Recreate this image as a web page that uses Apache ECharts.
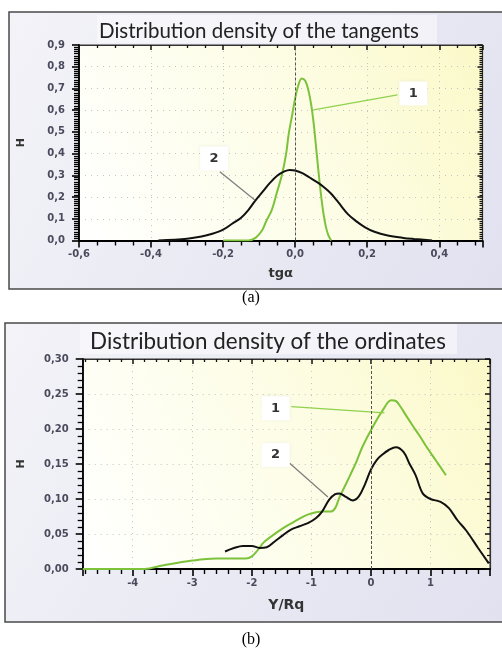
<!DOCTYPE html>
<html><head><meta charset="utf-8">
<script src="https://cdn.jsdelivr.net/npm/echarts@6/dist/echarts.min.js"></script>
<style>html,body{margin:0;padding:0;background:#fff}#c{width:502px;height:650px}</style>
</head><body><div id="c"></div>
<script>
// ---- texts ----
const topTitle = 'Distribution density of the tangents';
const botTitle = 'Distribution density of the ordinates';
const topXName = 'tgα';
const botXName = 'Y/Rq';
const yName = 'H';
const captions = ['(a)', '(b)'];
const curveLabels = ['1', '2'];

// ---- chart (a): tangents ----
const tanCurve1X = [-0.2,-0.13,-0.11,-0.092,-0.08,-0.065,-0.05,-0.037,-0.025,-0.018,-0.008,0,0.008,0.018,0.028,0.037,0.045,0.052,0.058,0.064,0.071,0.078,0.085,0.092,0.1];
const tanCurve1Y = [0,0,0.012,0.046,0.09,0.14,0.225,0.30,0.40,0.49,0.58,0.655,0.71,0.746,0.735,0.69,0.62,0.53,0.43,0.33,0.22,0.13,0.065,0.025,0];
const tanCurve2X = [-0.38,-0.3,-0.26,-0.23,-0.2,-0.175,-0.15,-0.13,-0.11,-0.09,-0.07,-0.05,-0.03,-0.015,0,0.02,0.04,0.064,0.08,0.1,0.12,0.147,0.17,0.193,0.22,0.257,0.3,0.33,0.38];
const tanCurve2Y = [0,0.008,0.018,0.031,0.05,0.077,0.105,0.14,0.185,0.225,0.265,0.298,0.318,0.325,0.322,0.31,0.29,0.265,0.245,0.215,0.175,0.12,0.088,0.062,0.04,0.023,0.012,0.007,0];

// ---- chart (b): ordinates ----
const ordCurve1X = [-4.84,-3.8,-3.5,-3.0,-2.6,-2.1,-2.0,-1.9,-1.8,-1.65,-1.48,-1.3,-1.2,-1.05,-0.92,-0.8,-0.68,-0.6,-0.53,-0.45,-0.36,-0.25,-0.14,0.03,0.2,0.34,0.42,0.48,0.6,0.7,0.82,0.93,1.1,1.26];
const ordCurve1Y = [0,0,0.005,0.012,0.015,0.015,0.018,0.027,0.038,0.048,0.058,0.067,0.072,0.078,0.081,0.082,0.082,0.087,0.102,0.116,0.132,0.152,0.175,0.203,0.227,0.241,0.24,0.234,0.218,0.205,0.19,0.175,0.154,0.134];
const ordCurve2X = [-2.45,-2.3,-2.15,-2.0,-1.87,-1.75,-1.62,-1.48,-1.35,-1.2,-1.05,-0.92,-0.82,-0.7,-0.6,-0.53,-0.42,-0.3,-0.2,-0.1,0.0,0.1,0.2,0.3,0.42,0.55,0.65,0.75,0.87,1.0,1.17,1.31,1.45,1.6,1.8,1.98];
const ordCurve2Y = [0.025,0.03,0.033,0.033,0.03,0.031,0.039,0.048,0.056,0.061,0.066,0.073,0.082,0.099,0.107,0.108,0.103,0.098,0.104,0.121,0.142,0.156,0.164,0.170,0.174,0.167,0.15,0.134,0.108,0.1,0.096,0.087,0.07,0.055,0.03,0.008];

// ---- axis ranges ----
const topXRange = [-0.6, 0.52], topXStep = 0.2;
const topYRange = [0, 0.9], topYStep = 0.1;
const botXRange = [-4.84, 2.0];
const botYRange = [0, 0.30], botYStep = 0.05;

// ---- annotation anchors (data coords) ----
const topLabelPos = [[0.328, 0.677], [-0.225, 0.378]];
const topLeader = [[[0.284, 0.670], [0.051, 0.601]], [[-0.209, 0.317], [-0.112, 0.186]]];
const botLabelPos = [[-1.60, 0.2296], [-1.60, 0.163]];
const botLeader = [[[-1.336, 0.232], [0.228, 0.223]], [[-1.364, 0.151], [-0.722, 0.103]]];

const zip = (xs, ys) => xs.map((x, i) => [x, ys[i]]);
const GREEN = '#7cc23a', BLACK = '#111111';
const LEAD = ['#8fd24e', '#808080'];
const labFont = 'DejaVu Sans';
const comma = d => v => v.toFixed(d).replace('.', ',');

const plotBg = new echarts.graphic.LinearGradient(0, 1, 1, 0, [
  {offset: 0, color: '#ffffff'}, {offset: 0.55, color: '#fdfde6'}, {offset: 1, color: '#fbf9c8'}]);
const frameBg = new echarts.graphic.LinearGradient(0, 0, 1, 1, [
  {offset: 0, color: '#f3f3f8'}, {offset: 1, color: '#e1e1f0'}]);

function mainX(grid, range, step, dec, minor, name, gap, nameSize) {
  const o = {
    type: 'value', gridIndex: grid, position: 'bottom', min: range[0], max: range[1],
    axisLine: {show: true, onZero: false, lineStyle: {color: '#000', width: 1.8}},
    axisTick: {show: true, inside: false, length: 7, lineStyle: {color: '#000', width: 1.6}},
    minorTick: {show: true, splitNumber: minor, length: 5, lineStyle: {color: '#000', width: 1.4}},
    splitLine: {show: true, lineStyle: {color: '#c4c4c4', type: [1, 5], width: 1}},
    axisLabel: {color: '#4a4a5c', fontFamily: labFont, fontWeight: 'bold', fontSize: 10, margin: 9,
      showMinLabel: step ? true : false, showMaxLabel: false, formatter: comma(dec)},
    name: name, nameLocation: 'middle', nameGap: gap,
    nameTextStyle: {color: '#333', fontFamily: labFont, fontWeight: 'bold', fontSize: nameSize}
  };
  if (step) o.interval = step; else o.splitNumber = 7;
  return o;
}
function mainY(grid, range, step, dec, minor, gap, margin) {
  return {
    type: 'value', gridIndex: grid, position: 'left', min: range[0], max: range[1], interval: step,
    axisLine: {show: true, onZero: false, lineStyle: {color: '#000', width: 1.8}},
    axisTick: {show: true, length: 7, lineStyle: {color: '#000', width: 1.6}},
    minorTick: {show: true, splitNumber: minor, length: 5, lineStyle: {color: '#000', width: 1.3}},
    splitLine: {show: true, lineStyle: {color: '#c4c4c4', type: [1, 5], width: 1}},
    axisLabel: {color: '#4a4a5c', fontFamily: labFont, fontWeight: 'bold', fontSize: 10, margin: margin, formatter: comma(dec)},
    name: yName, nameLocation: 'middle', nameGap: gap, nameRotate: 90,
    nameTextStyle: {color: '#333', fontFamily: labFont, fontWeight: 'bold', fontSize: 11}
  };
}
// tick-only mirror axes (inner ticks on the top and right edges of each plot)
function mirrorX(grid, range, step, minor) {
  const o = {type: 'value', gridIndex: grid, position: 'top', min: range[0], max: range[1],
    axisLine: {show: true, onZero: false, lineStyle: {color: '#333', width: 1.2}},
    axisTick: {show: true, inside: true, length: 5, lineStyle: {color: '#111', width: 1.5}},
    minorTick: {show: true, splitNumber: minor, length: 3, lineStyle: {color: '#111', width: 1.3}},
    splitLine: {show: false}, axisLabel: {show: false}};
  if (step) o.interval = step; else o.splitNumber = 7;
  return o;
}
function mirrorY(grid, range, step, minor) {
  return {type: 'value', gridIndex: grid, position: 'right', min: range[0], max: range[1], interval: step,
    axisLine: {show: true, onZero: false, lineStyle: {color: '#333', width: 1.2}},
    axisTick: {show: true, inside: true, length: 5, lineStyle: {color: '#111', width: 1.5}},
    minorTick: {show: true, splitNumber: minor, length: 3, lineStyle: {color: '#111', width: 1.2}},
    splitLine: {show: false}, axisLabel: {show: false}};
}
function labelPoints(pos) {
  return {
    symbol: 'rect', symbolSize: [28, 24], silent: true,
    itemStyle: {color: '#ffffff', shadowColor: 'rgba(0,0,0,0.08)', shadowBlur: 3},
    label: {show: true, position: 'inside', color: '#333', fontFamily: labFont, fontWeight: 'bold', fontSize: 13},
    data: pos.map((p, i) => ({coord: p, value: curveLabels[i], label: {formatter: curveLabels[i]}}))
  };
}
function leaders(lines, yr) {
  return {
    silent: true, symbol: ['none', 'none'], label: {show: false},
    data: [
      ...lines.map((l, i) => [{coord: l[0], lineStyle: {color: LEAD[i], width: 1.3, type: 'solid'}}, {coord: l[1]}]),
      [{coord: [0, yr[0]], lineStyle: {color: '#555', width: 1, type: [3, 2]}}, {coord: [0, yr[1]]}]
    ]
  };
}

const chart = echarts.init(document.getElementById('c'), null, {renderer: 'canvas'});
chart.setOption({
  animation: false,
  backgroundColor: '#ffffff',
  title: [
    {text: topTitle, left: 259, top: 21, textAlign: 'center', padding: 0,
      textStyle: {fontFamily: 'Lato', fontWeight: 'normal', fontSize: 20.5, color: '#222'}},
    {text: botTitle, left: 268, top: 331, textAlign: 'center', padding: 0,
      textStyle: {fontFamily: 'Lato', fontWeight: 'normal', fontSize: 22.4, color: '#222'}}
  ],
  graphic: [
    {type: 'rect', z: -20, shape: {x: 9, y: 12, width: 500, height: 277}, style: {fill: frameBg, stroke: '#4a4a4a', lineWidth: 1.5}},
    {type: 'rect', z: -20, shape: {x: 5, y: 323, width: 505, height: 299}, style: {fill: frameBg, stroke: '#4a4a4a', lineWidth: 1.5}},
    {type: 'rect', z: -15, shape: {x: 97, y: 15, width: 340, height: 28}, style: {fill: 'rgba(255,255,255,0.45)'}},
    {type: 'rect', z: -15, shape: {x: 80, y: 324, width: 377, height: 30}, style: {fill: 'rgba(255,255,255,0.45)'}},
    {type: 'text', x: 251, y: 298, style: {text: captions[0], fill: '#000', font: '16px "Liberation Serif"', align: 'center', verticalAlign: 'middle'}},
    {type: 'text', x: 251, y: 640, style: {text: captions[1], fill: '#000', font: '16px "Liberation Serif"', align: 'center', verticalAlign: 'middle'}}
  ],
  grid: [
    {left: 79, top: 45, width: 403.5, height: 195.5, show: true, backgroundColor: plotBg, borderColor: '#333', borderWidth: 1},
    {left: 82.7, top: 359, width: 407.3, height: 210, show: true, backgroundColor: plotBg, borderColor: '#333', borderWidth: 1}
  ],
  xAxis: [
    mainX(0, topXRange, topXStep, 1, 4, topXName, 27, 13),
    mainX(1, botXRange, null, 0, 5, botXName, 29, 14),
    mirrorX(0, topXRange, topXStep, 4),
    mirrorX(1, botXRange, null, 5)
  ],
  yAxis: [
    mainY(0, topYRange, topYStep, 1, 10, 52, 14),
    mainY(1, botYRange, botYStep, 2, 5, 56, 14),
    mirrorY(0, topYRange, topYStep, 10),
    mirrorY(1, botYRange, botYStep, 5)
  ],
  series: [
    {type: 'line', name: '1', xAxisIndex: 0, yAxisIndex: 0, data: zip(tanCurve1X, tanCurve1Y), smooth: 0.35,
      showSymbol: false, lineStyle: {color: GREEN, width: 2}, z: 3},
    {type: 'line', name: '2', xAxisIndex: 0, yAxisIndex: 0, data: zip(tanCurve2X, tanCurve2Y), smooth: 0.35,
      showSymbol: false, lineStyle: {color: BLACK, width: 2}, z: 4,
      markLine: leaders(topLeader, topYRange), markPoint: labelPoints(topLabelPos)},
    {type: 'line', name: '1', xAxisIndex: 1, yAxisIndex: 1, data: zip(ordCurve1X, ordCurve1Y), smooth: 0.35,
      showSymbol: false, lineStyle: {color: GREEN, width: 2}, z: 3},
    {type: 'line', name: '2', xAxisIndex: 1, yAxisIndex: 1, data: zip(ordCurve2X, ordCurve2Y), smooth: 0.35,
      showSymbol: false, lineStyle: {color: BLACK, width: 2}, z: 4,
      markLine: leaders(botLeader, botYRange), markPoint: labelPoints(botLabelPos)}
  ]
});
</script></body></html>
